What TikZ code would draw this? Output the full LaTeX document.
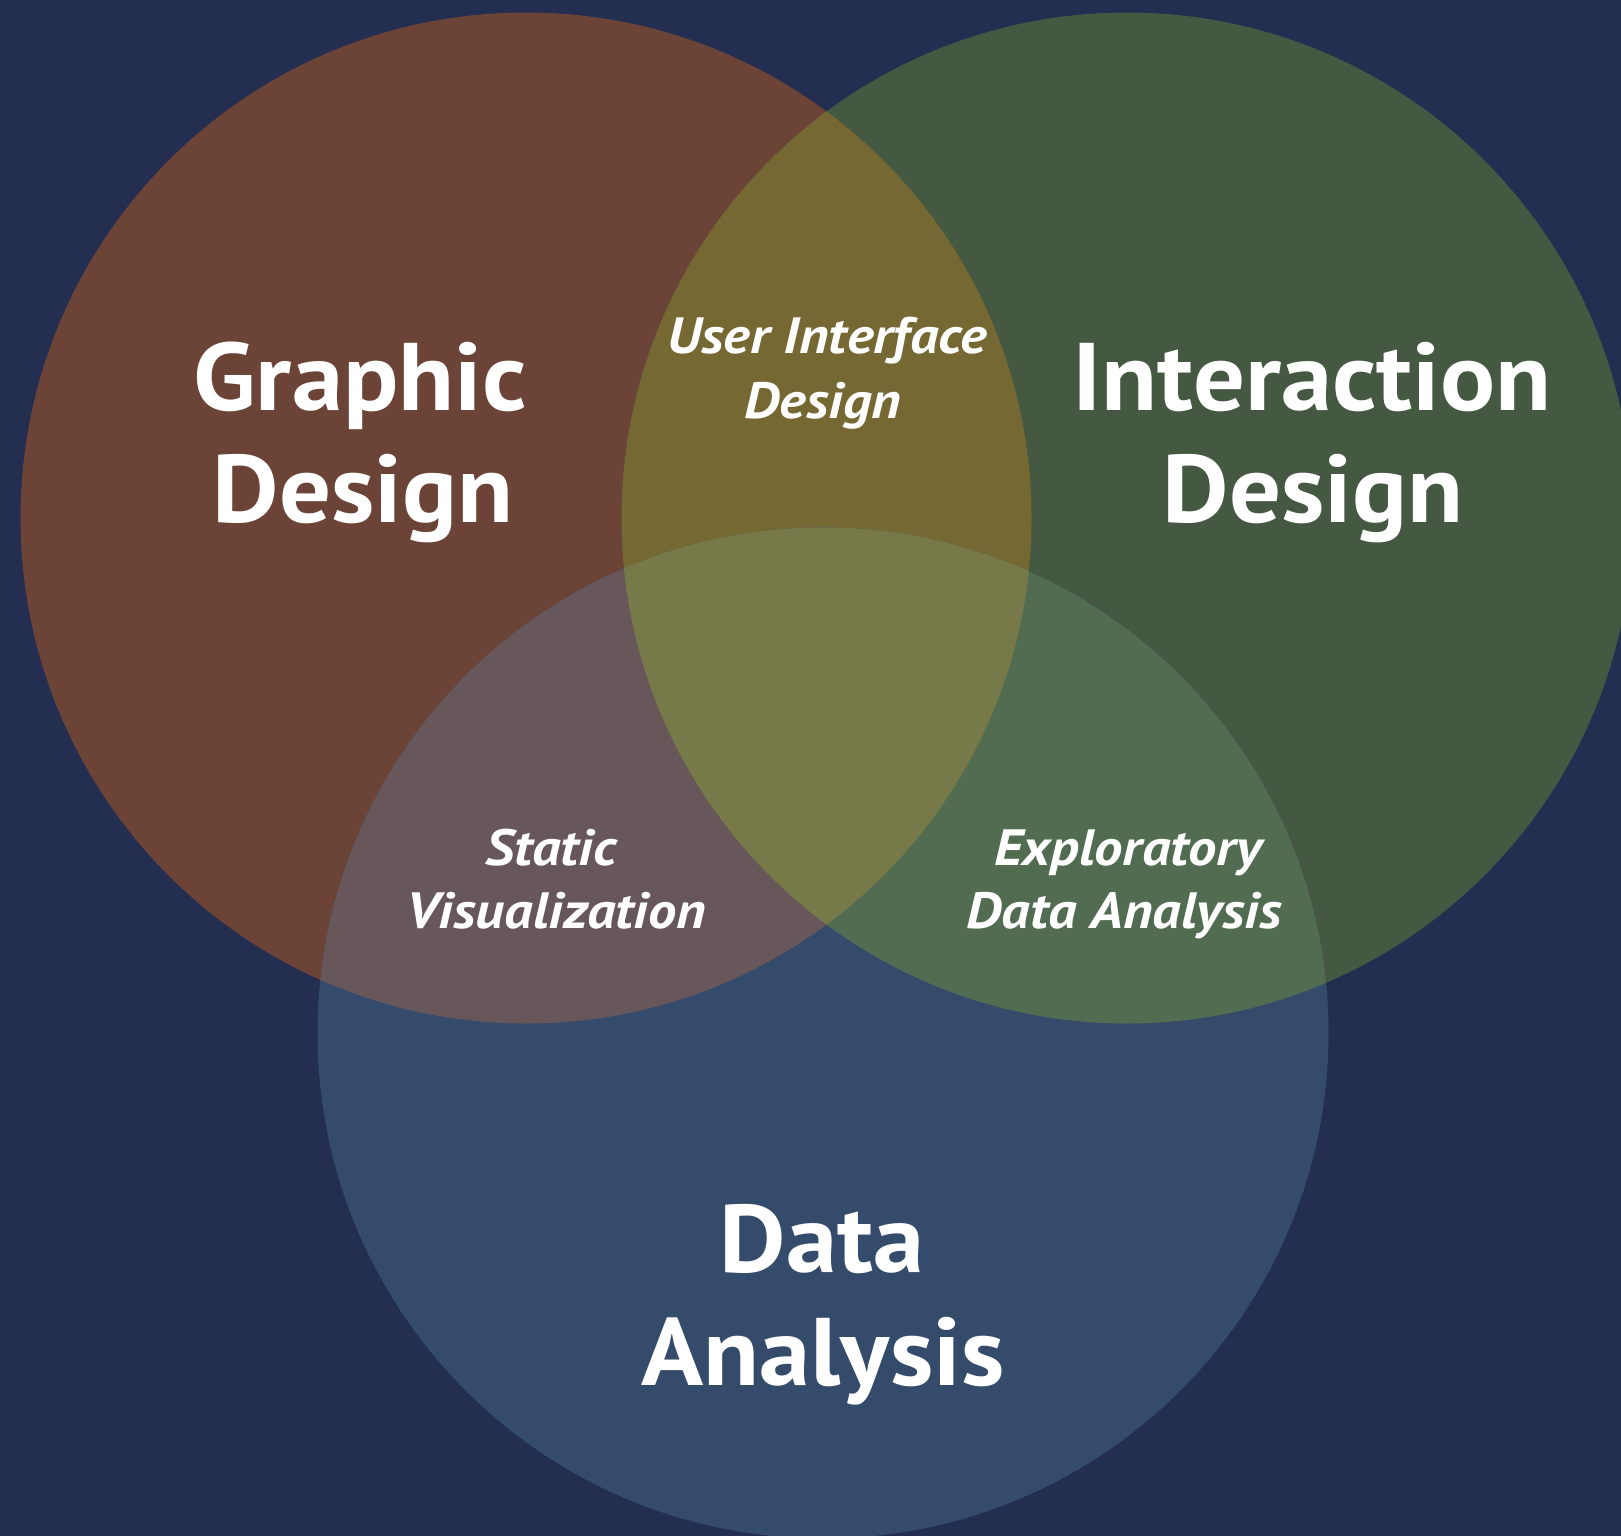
\documentclass[tikz,border=0pt]{standalone}
\usepackage{fontspec}
\setmainfont{PT Sans}
% slightly widened faces for the headings and the overlap labels
\newfontfamily\headfont{PT Sans}[FakeStretch=1.07]
\newfontfamily\overlapfont{PT Sans}[FakeStretch=1.11]
\definecolor{bgA}{HTML}{232E50}
\definecolor{bgP}{HTML}{282C53}
\definecolor{bgD}{HTML}{20264A}
\definecolor{cred}{HTML}{6B4337}
\definecolor{cgreen}{HTML}{455842}
\definecolor{cblue}{HTML}{354B6B}
\definecolor{crg}{HTML}{766833}
\definecolor{crb}{HTML}{67575B}
\definecolor{cgb}{HTML}{526C52}
\definecolor{crgb}{HTML}{777A48}
% soft banded glow behind the circles
\pgfdeclareradialshading{bgglow}{\pgfpoint{0bp}{0bp}}{%
  color(0bp)=(bgA); color(27bp)=(bgA); color(31bp)=(bgP); color(34bp)=(bgP);
  color(37bp)=(bgA); color(40bp)=(bgA); color(42bp)=(bgD); color(50bp)=(bgD)}
\tikzset{
  bigtext/.style={text=white, inner sep=0pt, anchor=base,
    font=\headfont\fontsize{96}{112}\selectfont\bfseries},
  smalltext/.style={text=white, inner sep=0pt, anchor=base,
    font=\overlapfont\fontsize{51}{63}\selectfont\bfseries\itshape},
}
\begin{document}
\begin{tikzpicture}[x=1pt,y=-1pt]
  % canvas and background glow
  \useasboundingbox (0,0) rectangle (1621,1535);
  \fill[bgD] (0,0) rectangle (1621,1535);
  \begin{scope}
    \clip (0,0) rectangle (1621,1535);
    \shade[shading=bgglow] (810,770) circle[radius=1120pt];
  \end{scope}

  % circle centres
  \coordinate (cr) at (526,518);
  \coordinate (cg) at (1127,518);
  \coordinate (cb) at (823,1033);
  \def\rad{505.5pt}

  % single-set regions
  \fill[cred]   (cr) circle[radius=\rad];
  \fill[cgreen] (cg) circle[radius=\rad];
  \fill[cblue]  (cb) circle[radius=\rad];

  % pairwise overlaps
  \begin{scope}
    \clip (cr) circle[radius=\rad];
    \fill[crg] (cg) circle[radius=\rad];
  \end{scope}
  \begin{scope}
    \clip (cr) circle[radius=\rad];
    \fill[crb] (cb) circle[radius=\rad];
  \end{scope}
  \begin{scope}
    \clip (cg) circle[radius=\rad];
    \fill[cgb] (cb) circle[radius=\rad];
  \end{scope}

  % triple overlap
  \begin{scope}
    \clip (cr) circle[radius=\rad];
    \clip (cg) circle[radius=\rad];
    \fill[crgb] (cb) circle[radius=\rad];
  \end{scope}

  % set labels
  \node[bigtext] (gd1) at (360,410) {Graphic};
  \node[bigtext] (gd2) at (363,522) {Design};
  \node[bigtext] (id1) at (1312,410) {Interaction};
  \node[bigtext] (id2) at (1313,522) {Design};
  \node[bigtext] (da1) at (822,1272) {Data};
  \node[bigtext] (da2) at (823,1385) {Analysis};

  % overlap labels
  \node[smalltext] (ui1) at (827,353) {User Interface};
  \node[smalltext] (ui2) at (823,418) {Design};
  \node[smalltext] (sv1) at (551,865) {Static};
  \node[smalltext] (sv2) at (556,928) {Visualization};
  \node[smalltext] (ed1) at (1128,865) {Exploratory};
  \node[smalltext] (ed2) at (1124,928) {Data Analysis};
\end{tikzpicture}
\end{document}
